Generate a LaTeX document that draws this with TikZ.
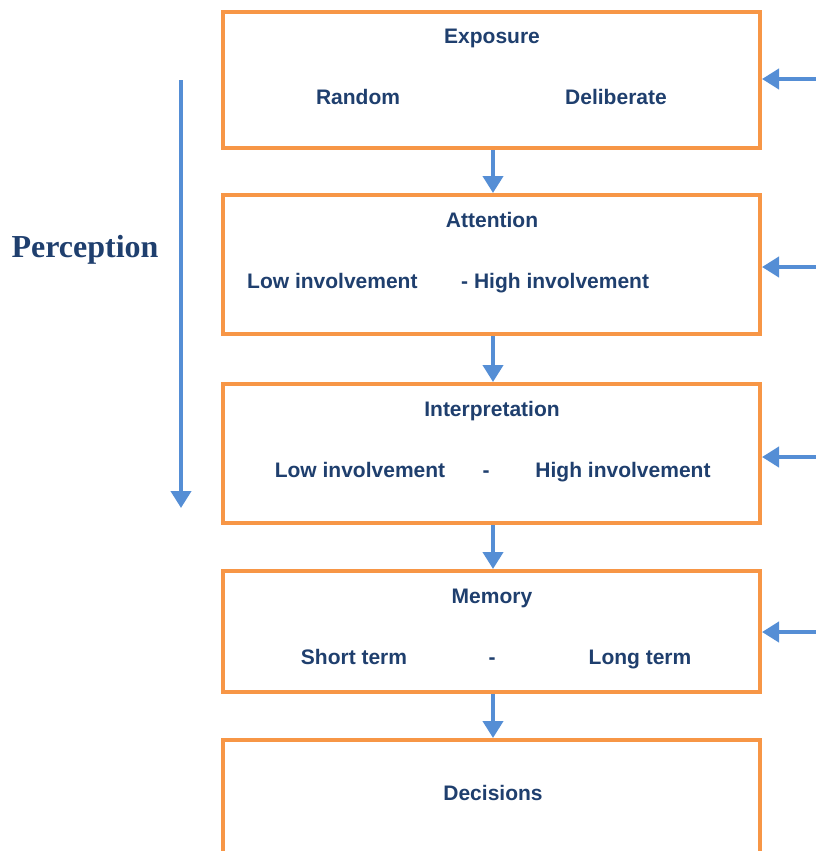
\documentclass[tikz,border=0pt]{standalone}
\usepackage{fontspec}
\setmainfont{Liberation Sans}
\newfontfamily\serifbold{Liberation Serif}
\usetikzlibrary{arrows.meta}
\definecolor{boxorange}{HTML}{F79646}
\definecolor{flowblue}{HTML}{558ED5}
\definecolor{textnavy}{HTML}{1F3F6E}
\begin{document}
\begin{tikzpicture}[x=1pt,y=-1pt,
  stage/.style={draw=boxorange, line width=4pt, fill=white},
  lbl/.style={text=textnavy, font=\bfseries\fontsize{21}{24}\selectfont, inner sep=0pt, anchor=base},
  flow/.style={draw=flowblue, line width=4pt, -{Triangle[length=17pt,width=20pt]}}
]
\useasboundingbox (0,0) rectangle (816,851);

% stage boxes
\path[stage] (223,12) rectangle (760,148);
\path[stage] (223,195) rectangle (760,334);
\path[stage] (223,384) rectangle (760,523);
\path[stage] (223,571) rectangle (760,692);
\path[stage] (223,740) rectangle (760,854);

% anchors on the box edges
\coordinate (b1s) at (493,150);
\coordinate (b2n) at (493,193);
\coordinate (b2s) at (493,336);
\coordinate (b3n) at (493,382);
\coordinate (b3s) at (493,525);
\coordinate (b4n) at (493,569);
\coordinate (b4s) at (493,694);
\coordinate (b5n) at (493,738);

\coordinate (in1) at (816,79);   \coordinate (e1) at (762,79);
\coordinate (in2) at (816,267);  \coordinate (e2) at (762,267);
\coordinate (in3) at (816,457);  \coordinate (e3) at (762,457);
\coordinate (in4) at (816,632);  \coordinate (e4) at (762,632);

\coordinate (pTop) at (181,80);
\coordinate (pEnd) at (181,508);

% texts
\node[lbl] (t1) at (492,44) {Exposure};
\node[lbl] (t1a) at (358,104) {Random};
\node[lbl] (t1b) at (616,104) {Deliberate};

\node[lbl] (t2) at (492,227) {Attention};
\node[lbl, anchor=base west] (t2a) at (247,288) {Low involvement};
\node[lbl, anchor=base west] (t2b) at (461,288) {- High involvement};

\node[lbl] (t3) at (492,416) {Interpretation};
\node[lbl] (t3a) at (360,477) {Low involvement};
\node[lbl] (t3d) at (486,477) {-};
\node[lbl] (t3b) at (623,477) {High involvement};

\node[lbl] (t4) at (492,603) {Memory};
\node[lbl] (t4a) at (354,664) {Short term};
\node[lbl] (t4d) at (492,664) {-};
\node[lbl] (t4b) at (640,664) {Long term};

\node[lbl] (t5) at (493,800) {Decisions};

\node[text=textnavy, font=\serifbold\bfseries\fontsize{32}{36}\selectfont, inner sep=0pt, anchor=base] (perc) at (85,257) {Perception};

% connectors
\draw[flow] (b1s) -- (b2n);
\draw[flow] (b2s) -- (b3n);
\draw[flow] (b3s) -- (b4n);
\draw[flow] (b4s) -- (b5n);

\draw[flow] (in1) -- (e1);
\draw[flow] (in2) -- (e2);
\draw[flow] (in3) -- (e3);
\draw[flow] (in4) -- (e4);

\draw[flow] (pTop) -- (pEnd);
\end{tikzpicture}
\end{document}
